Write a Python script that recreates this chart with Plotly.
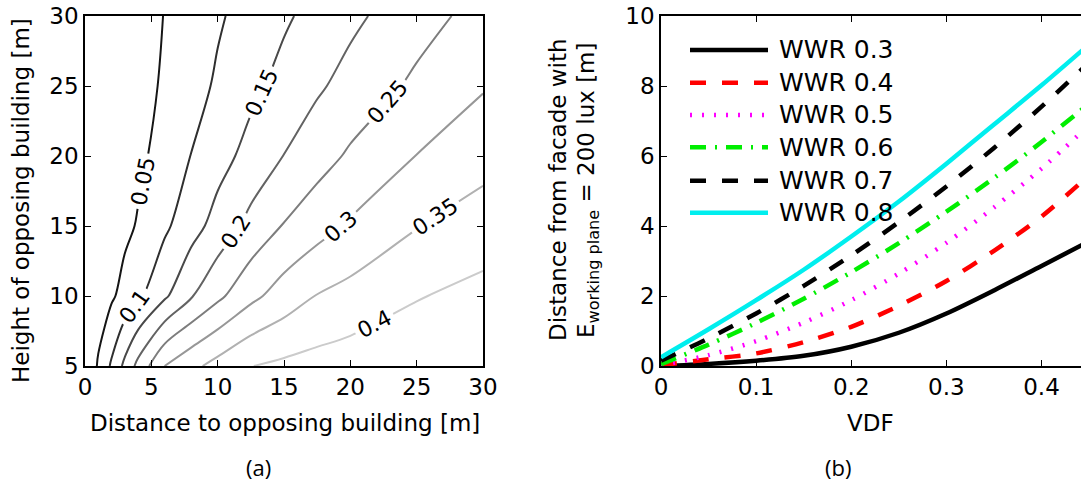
import plotly.graph_objects as go

W, H = 1081, 486


def px(x):
    return x / W


def py(y):
    return 1 - y / H


# ---------------- Panel (a): contour data ----------------
dist = [0, 1, 2, 3, 4, 6, 8, 10, 12.5, 15, 17.5, 20, 25, 30]
height = [5, 10, 15, 20, 25, 30]
vdf_grid = [
    [0, 0.056, 0.107, 0.162, 0.214, 0.300, 0.337, 0.367, 0.399, 0.410, 0.418, 0.425, 0.436, 0.445],
    [0, 0.022, 0.043, 0.067, 0.090, 0.142, 0.196, 0.239, 0.287, 0.323, 0.352, 0.367, 0.397, 0.415],
    [0, 0.013, 0.026, 0.039, 0.054, 0.091, 0.130, 0.169, 0.215, 0.253, 0.281, 0.306, 0.348, 0.373],
    [0, 0.010, 0.020, 0.030, 0.040, 0.067, 0.101, 0.131, 0.167, 0.201, 0.230, 0.257, 0.301, 0.333],
    [0, 0.009, 0.018, 0.027, 0.036, 0.055, 0.081, 0.107, 0.138, 0.166, 0.193, 0.217, 0.260, 0.296],
    [0, 0.009, 0.017, 0.025, 0.034, 0.051, 0.073, 0.094, 0.119, 0.143, 0.166, 0.189, 0.230, 0.268],
]

# ---------------- Panel (b): line data ----------------
vdf = [0, 0.05, 0.1, 0.15, 0.2, 0.25, 0.3, 0.35, 0.4, 0.45]
wwr03 = [0.0, 0.06, 0.15, 0.29, 0.55, 0.95, 1.50, 2.16, 2.86, 3.56]
wwr04 = [0.02, 0.19, 0.36, 0.68, 1.12, 1.72, 2.43, 3.29, 4.27, 5.45]
wwr05 = [0.02, 0.31, 0.71, 1.24, 1.88, 2.64, 3.52, 4.53, 5.64, 6.88]
wwr06 = [0.05, 0.61, 1.23, 1.92, 2.68, 3.51, 4.41, 5.37, 6.40, 7.50]
wwr07 = [0.15, 0.79, 1.50, 2.29, 3.16, 4.11, 5.13, 6.23, 7.41, 8.67]
wwr08 = [0.25, 1.05, 1.88, 2.75, 3.70, 4.70, 5.78, 6.90, 8.02, 9.19]

series_names = ["WWR 0.3", "WWR 0.4", "WWR 0.5", "WWR 0.6", "WWR 0.7", "WWR 0.8"]
series_values = [wwr03, wwr04, wwr05, wwr06, wwr07, wwr08]
series_colors = ["#000000", "#ff0000", "#ff00ff", "#00ee00", "#000000", "#00eeee"]
series_dash = ["solid", "16px,16px", "2px,10px", "16px,9px,2px,9px", "16px,16px", "solid"]
series_width = [4.5, 4.5, 4.5, 4.5, 4.5, 4.5]

FONT = "DejaVu Sans"

fig = go.Figure()

fig.add_trace(go.Contour(
    x=dist, y=height, z=vdf_grid,
    contours=dict(start=0.05, end=0.41, size=0.05, coloring="lines",
                  showlabels=True,
                  labelfont=dict(family=FONT, size=22, color="black")),
    colorscale=[[0, "#151515"], [1, "#cbcbcb"]],
    zmin=0.05, zmax=0.4, zauto=False,
    showscale=False,
    line=dict(width=2),
    xaxis="x", yaxis="y",
    hoverinfo="skip",
))

for name, vals, col, dash, wd in zip(series_names, series_values, series_colors,
                                     series_dash, series_width):
    fig.add_trace(go.Scatter(
        x=vdf, y=vals, mode="lines", name=name,
        line=dict(color=col, width=wd, dash=dash, shape="spline", smoothing=0.8),
        xaxis="x2", yaxis="y2", showlegend=False,
    ))

axis_common = dict(
    showline=True, linecolor="black", linewidth=1.5,
    ticks="inside", ticklen=6, tickwidth=1, tickcolor="black",
    showgrid=False, zeroline=False, automargin=False,
    tickfont=dict(family=FONT, size=23, color="black"),
)

ydom = [py(366), py(16)]

fig.update_layout(
    width=W, height=H,
    margin=dict(l=0, r=0, t=0, b=0, pad=0, autoexpand=False),
    paper_bgcolor="white", plot_bgcolor="white",
    showlegend=False,
    xaxis=dict(domain=[px(85), px(483)], range=[0, 30], tickmode="linear",
               tick0=0, dtick=5, mirror="ticks", anchor="y", **axis_common),
    yaxis=dict(domain=ydom, range=[5, 30], tickmode="linear", tick0=5, dtick=5,
               mirror="ticks", anchor="x", **axis_common),
    xaxis2=dict(domain=[px(661), 1.0], range=[0, 0.4415], tickmode="linear",
                tick0=0, dtick=0.1, mirror="ticks", anchor="y2", **axis_common),
    yaxis2=dict(domain=ydom, range=[0, 10], tickmode="linear", tick0=0, dtick=2,
                mirror=False, anchor="x2", **axis_common),
)

# Manual legend (long line samples as in the original)
legend_y = [50, 82.7, 115, 147.3, 180.7, 212.7]
for name, col, dash, wd, ly in zip(series_names, series_colors, series_dash,
                                   series_width, legend_y):
    fig.add_shape(type="line", xref="paper", yref="paper",
                  x0=px(690), x1=px(768), y0=py(ly), y1=py(ly),
                  line=dict(color=col, width=wd, dash=dash))
    fig.add_annotation(text=name, xref="paper", yref="paper",
                       x=px(777), y=py(ly), xanchor="left", yanchor="middle",
                       showarrow=False,
                       font=dict(family=FONT, size=25, color="black"))

title_font = dict(family=FONT, size=23, color="black")
annots = [
    dict(text="Distance to opposing building [m]", x=px(285), y=py(423),
         textangle=0),
    dict(text="Height of opposing building [m]", x=px(21), y=py(201),
         textangle=-90),
    dict(text="VDF", x=px(870), y=py(423), textangle=0),
    dict(text="Distance from facade with", x=px(558), y=py(190), textangle=-90),
    dict(text="E<sub>working plane</sub> = 200 lux [m]", x=px(588), y=py(190),
         textangle=-90),
]
for a in annots:
    fig.add_annotation(xref="paper", yref="paper", showarrow=False,
                       xanchor="center", yanchor="middle", font=title_font, **a)

for lab, xc in [("(a)", 258), ("(b)", 838)]:
    fig.add_annotation(text=lab, xref="paper", yref="paper", x=px(xc), y=py(467),
                       xanchor="center", yanchor="middle", showarrow=False,
                       font=dict(family="Open Sans", size=22, color="black"))

fig.write_html(
    "out.html",
    config={"displayModeBar": False},
    post_script="document.body.style.margin='0';document.body.style.padding='0';",
)
